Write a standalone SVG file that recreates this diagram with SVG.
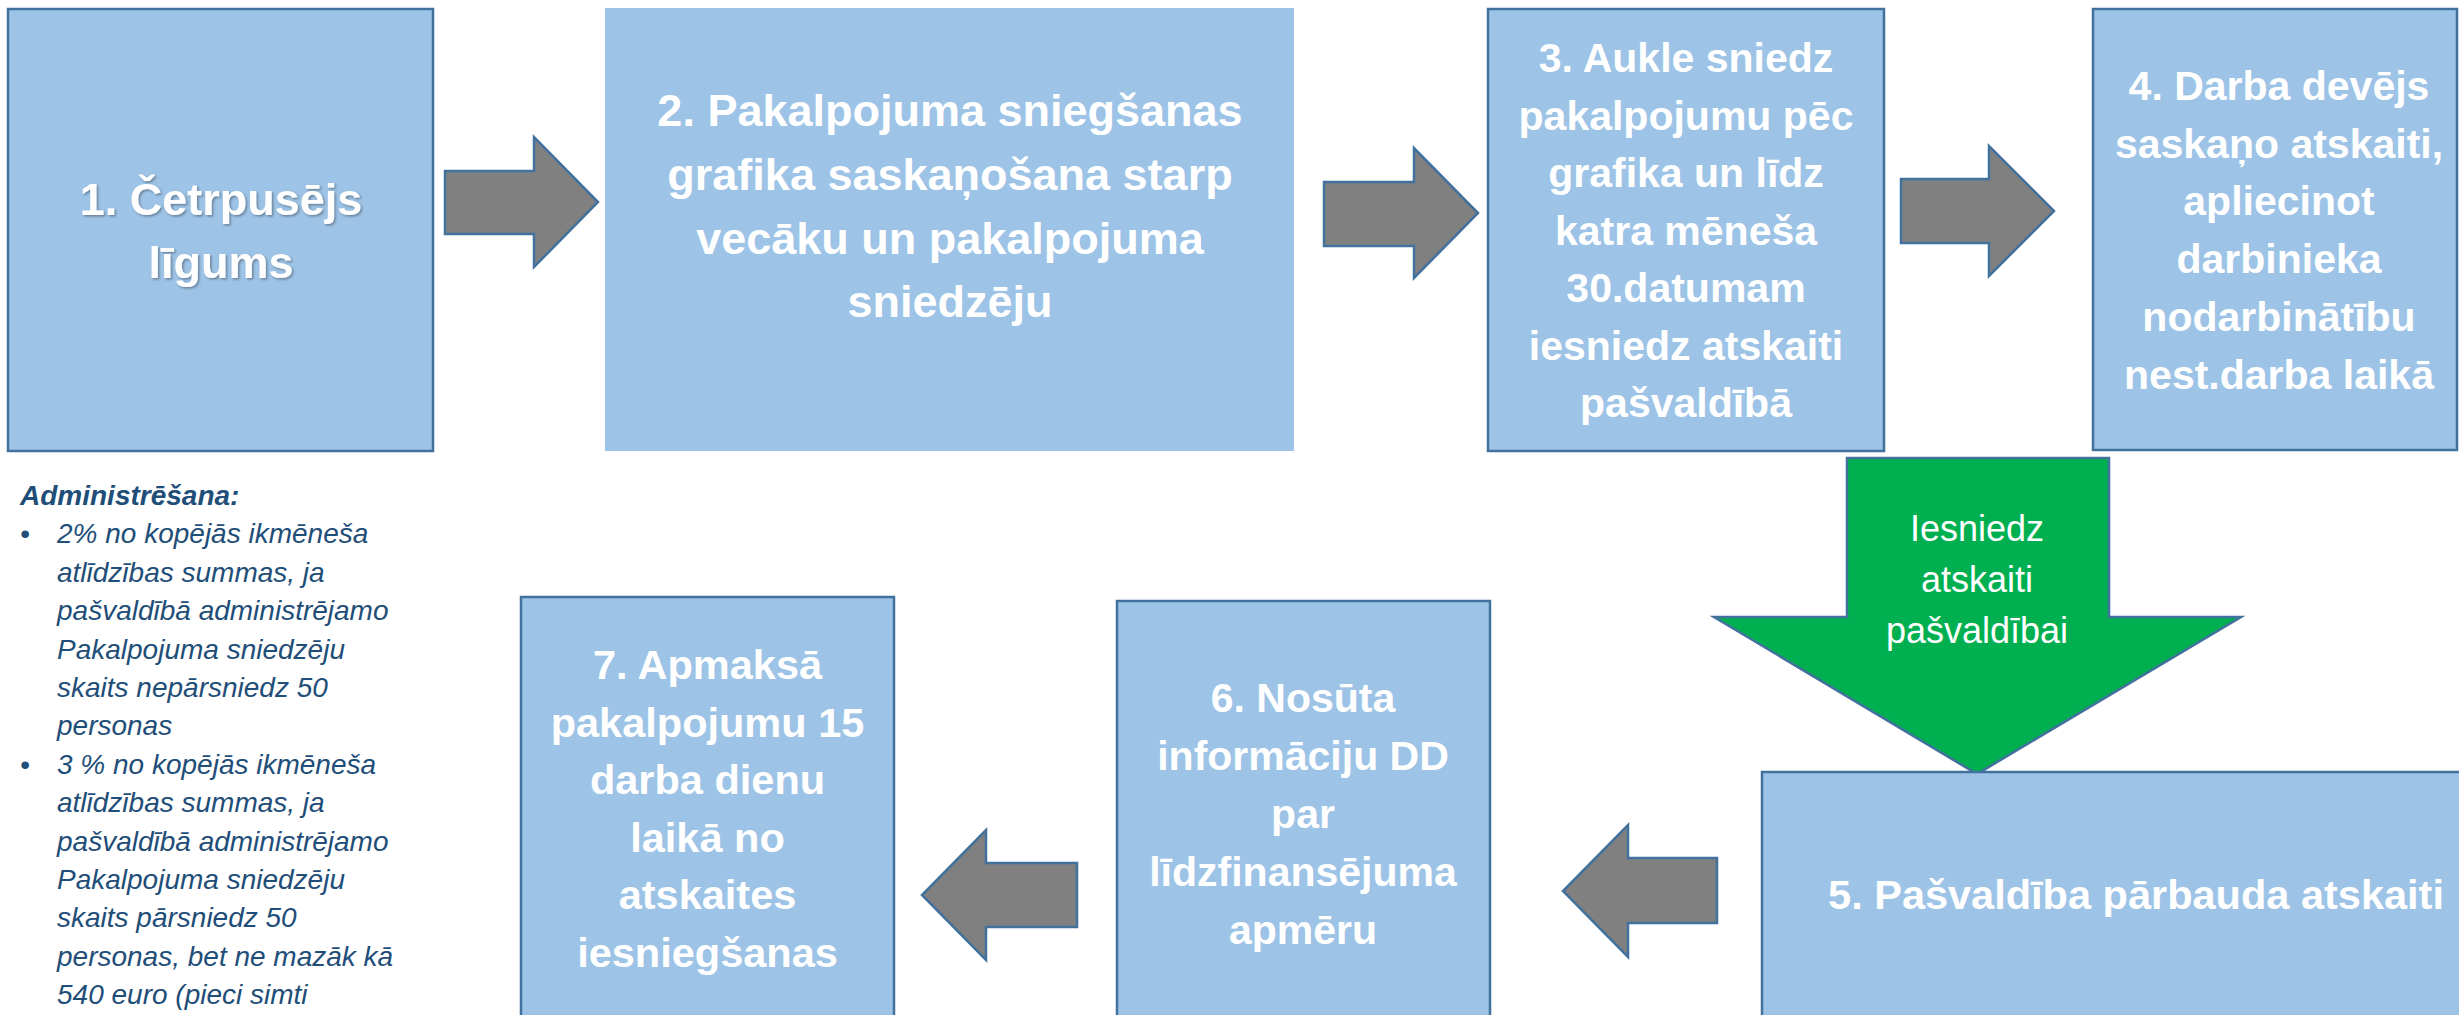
<svg xmlns="http://www.w3.org/2000/svg" width="2459" height="1015" viewBox="0 0 2459 1015">
<defs>
<style>
.box{fill:#9DC3E6;stroke:#41719C;stroke-width:2.5}
.box2{fill:#9DC3E6}
.t{font-family:"Liberation Sans",Arial,sans-serif;font-weight:bold;fill:#FFFFFF;text-anchor:middle}
.arr{fill:#808080;stroke:#41719C;stroke-width:2.5;stroke-linejoin:miter}
.garr{fill:#00B050;stroke:#41719C;stroke-width:2.5}
.gl{font-family:"Liberation Sans",Arial,sans-serif;font-size:36px;fill:#FFFFFF;text-anchor:middle}
.note{font-family:"Liberation Sans",Arial,sans-serif;font-size:28px;font-style:italic;fill:#1F4E79}
</style>
<filter id="sh" x="-10%" y="-10%" width="120%" height="130%">
<feDropShadow dx="1.5" dy="1.5" stdDeviation="1" flood-color="#000000" flood-opacity="0.35"/>
</filter>
</defs>
<rect width="2459" height="1015" fill="#FFFFFF"/>

<g id="connectors">
<path class="arr" d="M445,171 L534,171 L534,137 L598,202 L534,267 L534,234 L445,234 Z"/>
<path class="arr" d="M1324,182 L1414,182 L1414,148 L1478,213 L1414,278 L1414,246 L1324,246 Z"/>
<path class="arr" d="M1901,179 L1989,179 L1989,146 L2054,211 L1989,276 L1989,243 L1901,243 Z"/>
<path class="arr" d="M1717,858 L1628,858 L1628,825 L1563,891 L1628,957 L1628,923 L1717,923 Z"/>
<path class="arr" d="M1077,863 L986,863 L986,830 L922,895 L986,960 L986,927 L1077,927 Z"/>
<g id="green-arrow">
<path class="garr" d="M1847,458 L2109,458 L2109,617 L2241,617 L1977,774 L1714,617 L1847,617 Z"/>
<text class="gl" x="1977" y="541">Iesniedz</text>
<text class="gl" x="1977" y="592">atskaiti</text>
<text class="gl" x="1977" y="643">pašvaldībai</text>
</g>
</g>

<g id="node1">
<rect class="box" x="8" y="9" width="425" height="442"/>
<g filter="url(#sh)">
<text class="t" font-size="45" x="221" y="215">1. Četrpusējs</text>
<text class="t" font-size="45" x="221" y="278">līgums</text>
</g>
</g>

<g id="node2">
<rect class="box2" x="605" y="8" width="689" height="443"/>
<text class="t" font-size="45" x="950" y="126">2. Pakalpojuma sniegšanas</text>
<text class="t" font-size="45" x="950" y="190">grafika saskaņošana starp</text>
<text class="t" font-size="45" x="950" y="254">vecāku un pakalpojuma</text>
<text class="t" font-size="45" x="950" y="317">sniedzēju</text>
</g>

<g id="node3">
<rect class="box" x="1488" y="9" width="396" height="442"/>
<text class="t" font-size="41" x="1686" y="72">3. Aukle sniedz</text>
<text class="t" font-size="41" x="1686" y="129.5">pakalpojumu pēc</text>
<text class="t" font-size="41" x="1686" y="187">grafika un līdz</text>
<text class="t" font-size="41" x="1686" y="244.5">katra mēneša</text>
<text class="t" font-size="41" x="1686" y="302">30.datumam</text>
<text class="t" font-size="41" x="1686" y="359.5">iesniedz atskaiti</text>
<text class="t" font-size="41" x="1686" y="417">pašvaldībā</text>
</g>

<g id="node4">
<rect class="box" x="2093" y="9" width="364" height="441"/>
<text class="t" font-size="41" x="2279" y="100">4. Darba devējs</text>
<text class="t" font-size="41" x="2279" y="157.7">saskaņo atskaiti,</text>
<text class="t" font-size="41" x="2279" y="215.4">apliecinot</text>
<text class="t" font-size="41" x="2279" y="273.1">darbinieka</text>
<text class="t" font-size="41" x="2279" y="330.8">nodarbinātību</text>
<text class="t" font-size="41" x="2279" y="388.5">nest.darba laikā</text>
</g>

<g id="node5">
<rect class="box" x="1762" y="772" width="760" height="300"/>
<text class="t" font-size="41.5" x="2136" y="909">5. Pašvaldība pārbauda atskaiti</text>
</g>

<g id="node6">
<rect class="box" x="1117" y="601" width="373" height="450"/>
<text class="t" font-size="41" x="1303" y="711.5">6. Nosūta</text>
<text class="t" font-size="41" x="1303" y="769.7">informāciju DD</text>
<text class="t" font-size="41" x="1303" y="827.9">par</text>
<text class="t" font-size="41" x="1303" y="886.1">līdzfinansējuma</text>
<text class="t" font-size="41" x="1303" y="944.3">apmēru</text>
</g>

<g id="node7">
<rect class="box" x="521" y="597" width="373" height="450"/>
<text class="t" font-size="41.5" x="707.5" y="679.3">7. Apmaksā</text>
<text class="t" font-size="41.5" x="707.5" y="736.8">pakalpojumu 15</text>
<text class="t" font-size="41.5" x="707.5" y="794.3">darba dienu</text>
<text class="t" font-size="41.5" x="707.5" y="851.8">laikā no</text>
<text class="t" font-size="41.5" x="707.5" y="909.3">atskaites</text>
<text class="t" font-size="41.5" x="707.5" y="966.8">iesniegšanas</text>
</g>

<g id="note">
<text class="note" x="20" y="505" font-weight="bold">Administrēšana:</text>
<text class="note" x="25" y="543.4" font-style="normal" text-anchor="middle">•</text>
<text class="note" x="57" y="543.4">2% no kopējās ikmēneša</text>
<text class="note" x="57" y="581.8">atlīdzības summas, ja</text>
<text class="note" x="57" y="620.2">pašvaldībā administrējamo</text>
<text class="note" x="57" y="658.6">Pakalpojuma sniedzēju</text>
<text class="note" x="57" y="697">skaits nepārsniedz 50</text>
<text class="note" x="57" y="735.4">personas</text>
<text class="note" x="25" y="773.8" font-style="normal" text-anchor="middle">•</text>
<text class="note" x="57" y="773.8">3 % no kopējās ikmēneša</text>
<text class="note" x="57" y="812.2">atlīdzības summas, ja</text>
<text class="note" x="57" y="850.6">pašvaldībā administrējamo</text>
<text class="note" x="57" y="889">Pakalpojuma sniedzēju</text>
<text class="note" x="57" y="927.4">skaits pārsniedz 50</text>
<text class="note" x="57" y="965.8">personas, bet ne mazāk kā</text>
<text class="note" x="57" y="1004.2">540 euro (pieci simti</text>
</g>
</svg>
